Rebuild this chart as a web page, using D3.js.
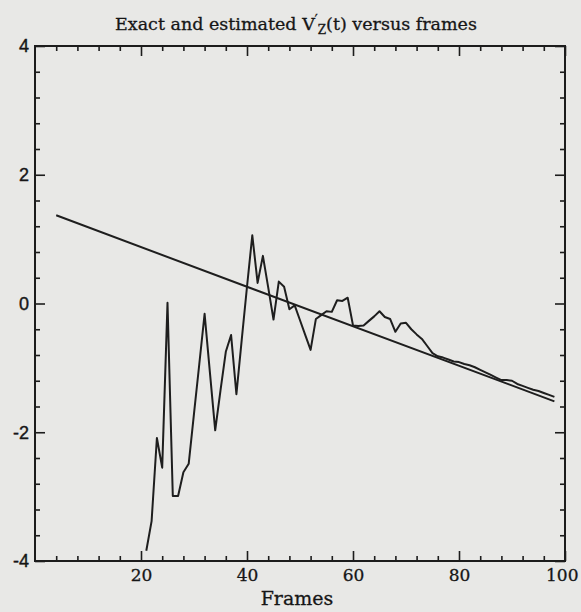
<!DOCTYPE html>
<html>
<head>
<meta charset="utf-8">
<script src="https://cdn.jsdelivr.net/npm/d3@7"></script>
<style>
  body { margin: 0; background: #e8e8e6; }
  svg { display: block; }
  .axis path { display: none; }
  .axis line { stroke: #1c1c1c; stroke-width: 1.6px; }
</style>
</head>
<body>
<svg id="main" width="581" height="612"></svg>
<script>
// exact V'z(t): straight line, endpoints
const exactFrames = [4, 40, 98];
const exactValues = [1.37, 0.26, -1.52];

// estimated V'z(t), one value per frame
const estFrames = d3.range(21, 99);
const estValues = [
  -3.84, -3.38, -2.09, -2.55, 0.01, -2.99, -2.99, -2.62, -2.49, -1.71,
  -0.94, -0.16, -1.07, -1.97, -1.35, -0.75, -0.49, -1.41, -0.57, 0.26,
  1.06, 0.32, 0.74, 0.25, -0.25, 0.34, 0.26, -0.09, -0.03, -0.26,
  -0.49, -0.72, -0.24, -0.18, -0.12, -0.13, 0.05, 0.04, 0.09, -0.34,
  -0.35, -0.34, -0.27, -0.20, -0.12, -0.21, -0.24, -0.44, -0.31, -0.30,
  -0.40, -0.48, -0.55, -0.66, -0.77, -0.82, -0.84, -0.87, -0.90, -0.91,
  -0.94, -0.96, -0.99, -1.03, -1.07, -1.11, -1.15, -1.19, -1.19, -1.20,
  -1.25, -1.28, -1.31, -1.34, -1.36, -1.39, -1.42, -1.45
];

const xTicks = [20, 40, 60, 80, 100];
const yTicks = [-4, -2, 0, 2, 4];

const svg = d3.select('svg#main');
const pLeft = 35, pRight = 565, pTop = 46, pBottom = 561;
const serif = "'DejaVu Serif', serif";

const x = d3.scaleLinear().domain([0, 100]).range([pLeft, pRight]);
const y = d3.scaleLinear().domain([-4, 4]).range([pBottom, pTop]);

const xMinor = d3.range(4, 100, 4).filter(d => d % 20 !== 0);
const yMinor = d3.range(-3.6, 4, 0.4).map(d => +d.toFixed(1)).filter(d => Math.abs(d % 2) > 0.01);

// title
const title = svg.append("text")
    .attr("x", 296)
    .attr("y", 30)
    .attr("text-anchor", "middle")
    .style("font-family", serif)
    .style("font-size", "17.5px")
    .style("fill", "#161616")
    .style("stroke", "#161616").style("stroke-width", "0.3px");
title.append("tspan").text("Exact and estimated V");
title.append("tspan").attr("dy", -6).style("font-size", "13px").text("\u2032");
title.append("tspan").attr("dy", 10).style("font-size", "12px").text("Z");
title.append("tspan").attr("dy", -4).text("(t) versus frames");

// ticks, all pointing inward
function addAxis(gen, tr) {
    return svg.append("g").attr("class", "axis").attr("transform", tr).call(gen);
}
const xAxisG = addAxis(d3.axisBottom(x).tickValues(xTicks).tickSize(-10).tickPadding(8)
    .tickFormat(d => String(d)), `translate(0,${pBottom})`);
addAxis(d3.axisBottom(x).tickValues(xMinor).tickSize(-5).tickFormat(""), `translate(0,${pBottom})`);
addAxis(d3.axisTop(x).tickValues(xTicks).tickSize(-10).tickFormat(""), `translate(0,${pTop})`);
addAxis(d3.axisTop(x).tickValues(xMinor).tickSize(-5).tickFormat(""), `translate(0,${pTop})`);
const yAxisG = addAxis(d3.axisLeft(y).tickValues(yTicks).tickSize(-10).tickPadding(6)
    .tickFormat(d => String(d)), `translate(${pLeft},0)`);
addAxis(d3.axisLeft(y).tickValues(yMinor).tickSize(-5).tickFormat(""), `translate(${pLeft},0)`);
addAxis(d3.axisRight(y).tickValues(yTicks).tickSize(-10).tickFormat(""), `translate(${pRight},0)`);
addAxis(d3.axisRight(y).tickValues(yMinor).tickSize(-5).tickFormat(""), `translate(${pRight},0)`);

xAxisG.selectAll("text")
    .style("fill", "#161616").style("stroke", "#161616").style("stroke-width", "0.3px")
    .style("font-family", serif).style("font-size", "17px");
// last label sits against the window edge
xAxisG.selectAll("text").filter(d => d === 100)
    .attr("text-anchor", "end").attr("x", 13);
yAxisG.selectAll("text")
    .style("fill", "#161616").style("stroke", "#161616").style("stroke-width", "0.4px")
    .style("font-family", "'Liberation Sans', Arial, sans-serif").style("font-size", "18px");

// frame
svg.append("rect")
    .attr("x", pLeft).attr("y", pTop)
    .attr("width", pRight - pLeft).attr("height", pBottom - pTop)
    .attr("fill", "none").style("stroke", "#1c1c1c").style("stroke-width", "2px");

// x label
svg.append("text")
    .attr("x", 297).attr("y", 605)
    .attr("text-anchor", "middle")
    .style("font-family", serif)
    .style("font-size", "19px")
    .style("fill", "#161616").style("stroke", "#161616").style("stroke-width", "0.3px")
    .text("Frames");

const line = d3.line().x(d => x(d.f)).y(d => y(d.v));

svg.append("path")
    .datum(exactFrames.map((f, i) => ({f: f, v: exactValues[i]})))
    .attr("d", line)
    .attr("fill", "none")
    .style("stroke", "#1e1e1e").style("stroke-width", "2px");

svg.append("path")
    .datum(estFrames.map((f, i) => ({f: f, v: estValues[i]})))
    .attr("d", line)
    .attr("fill", "none")
    .style("stroke", "#1e1e1e").style("stroke-width", "2px")
    .style("stroke-linejoin", "round");
</script>
</body>
</html>
